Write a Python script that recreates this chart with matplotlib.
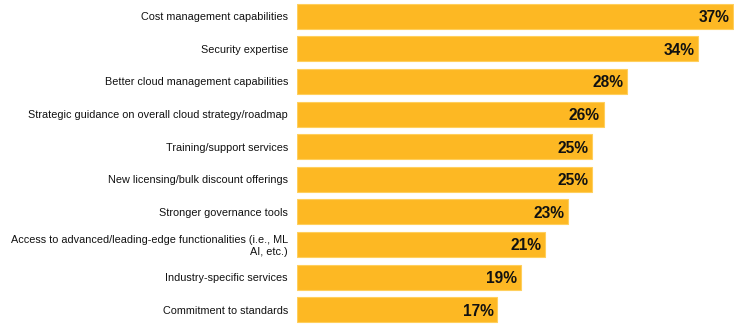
import matplotlib
matplotlib.use("Agg")
import matplotlib.pyplot as plt

categories = [
    "Cost management capabilities",
    "Security expertise",
    "Better cloud management capabilities",
    "Strategic guidance on overall cloud strategy/roadmap",
    "Training/support services",
    "New licensing/bulk discount offerings",
    "Stronger governance tools",
    "Access to advanced/leading-edge functionalities (i.e., ML\nAI, etc.)",
    "Industry-specific services",
    "Commitment to standards",
]
values = [37, 34, 28, 26, 25, 25, 23, 21, 19, 17]

plt.rcParams['font.family'] = ['Liberation Sans', 'DejaVu Sans']

fig = plt.figure(figsize=(7.36, 3.26), dpi=100)
ax = fig.add_axes([0.4035, 0.0, 0.5935, 1.0])

ypos = list(range(len(values)))
ax.barh(ypos, values, height=0.77, color='#FDB823', edgecolor='#FFCF5C', linewidth=0.8)

for y, v in zip(ypos, values):
    ax.text(v - 0.3, y, f"{v}%", ha='right', va='center_baseline', fontsize=11.2,
            fontweight='bold', color='#111111')

ax.set_yticks(ypos)
ax.set_yticklabels(categories, fontsize=7.8, color='#111111', multialignment='right')
ax.tick_params(axis='y', length=0, pad=6.5)
ax.set_xticks([])
ax.set_xlim(0, 37.05)
ax.set_ylim(9.5, -0.5)
for s in ax.spines.values():
    s.set_visible(False)

fig.savefig("out.png", dpi=100)
